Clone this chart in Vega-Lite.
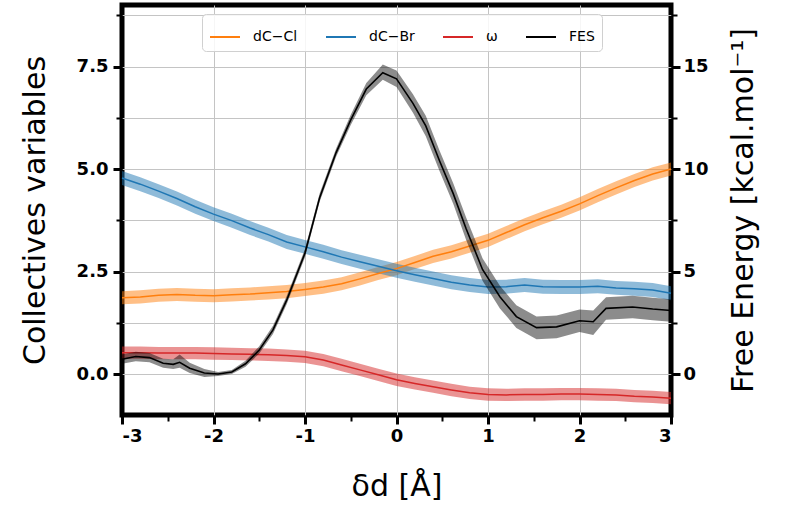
{
  "$schema": "https://vega.github.io/schema/vega-lite/v6.json",
  "width": 549,
  "height": 410,
  "autosize": {"type": "none"},
  "padding": {"left": 122, "top": 5, "right": 118, "bottom": 98},
  "background": "white",
  "data": {
    "values": [
      {"s": "dC−Cl", "x": -3.0, "v": 1.86, "lo": 1.70, "hi": 2.02},
      {"s": "dC−Cl", "x": -2.8, "v": 1.88, "lo": 1.72, "hi": 2.04},
      {"s": "dC−Cl", "x": -2.6, "v": 1.92, "lo": 1.76, "hi": 2.08},
      {"s": "dC−Cl", "x": -2.4, "v": 1.94, "lo": 1.78, "hi": 2.10},
      {"s": "dC−Cl", "x": -2.2, "v": 1.92, "lo": 1.76, "hi": 2.08},
      {"s": "dC−Cl", "x": -2.0, "v": 1.91, "lo": 1.75, "hi": 2.07},
      {"s": "dC−Cl", "x": -1.8, "v": 1.93, "lo": 1.77, "hi": 2.09},
      {"s": "dC−Cl", "x": -1.6, "v": 1.95, "lo": 1.79, "hi": 2.11},
      {"s": "dC−Cl", "x": -1.4, "v": 1.98, "lo": 1.82, "hi": 2.14},
      {"s": "dC−Cl", "x": -1.2, "v": 2.01, "lo": 1.85, "hi": 2.17},
      {"s": "dC−Cl", "x": -1.0, "v": 2.06, "lo": 1.90, "hi": 2.22},
      {"s": "dC−Cl", "x": -0.8, "v": 2.12, "lo": 1.96, "hi": 2.28},
      {"s": "dC−Cl", "x": -0.6, "v": 2.20, "lo": 2.04, "hi": 2.36},
      {"s": "dC−Cl", "x": -0.4, "v": 2.32, "lo": 2.16, "hi": 2.48},
      {"s": "dC−Cl", "x": -0.2, "v": 2.45, "lo": 2.29, "hi": 2.61},
      {"s": "dC−Cl", "x": 0.0, "v": 2.57, "lo": 2.41, "hi": 2.73},
      {"s": "dC−Cl", "x": 0.2, "v": 2.72, "lo": 2.56, "hi": 2.88},
      {"s": "dC−Cl", "x": 0.4, "v": 2.87, "lo": 2.71, "hi": 3.03},
      {"s": "dC−Cl", "x": 0.6, "v": 2.98, "lo": 2.82, "hi": 3.14},
      {"s": "dC−Cl", "x": 0.8, "v": 3.12, "lo": 2.96, "hi": 3.28},
      {"s": "dC−Cl", "x": 1.0, "v": 3.26, "lo": 3.10, "hi": 3.42},
      {"s": "dC−Cl", "x": 1.2, "v": 3.45, "lo": 3.29, "hi": 3.61},
      {"s": "dC−Cl", "x": 1.4, "v": 3.64, "lo": 3.48, "hi": 3.80},
      {"s": "dC−Cl", "x": 1.6, "v": 3.81, "lo": 3.65, "hi": 3.97},
      {"s": "dC−Cl", "x": 1.8, "v": 3.97, "lo": 3.81, "hi": 4.13},
      {"s": "dC−Cl", "x": 2.0, "v": 4.15, "lo": 3.99, "hi": 4.31},
      {"s": "dC−Cl", "x": 2.2, "v": 4.35, "lo": 4.19, "hi": 4.51},
      {"s": "dC−Cl", "x": 2.4, "v": 4.54, "lo": 4.38, "hi": 4.70},
      {"s": "dC−Cl", "x": 2.6, "v": 4.72, "lo": 4.56, "hi": 4.88},
      {"s": "dC−Cl", "x": 2.8, "v": 4.88, "lo": 4.72, "hi": 5.04},
      {"s": "dC−Cl", "x": 3.0, "v": 5.00, "lo": 4.84, "hi": 5.16},
      {"s": "dC−Br", "x": -3.0, "v": 4.78, "lo": 4.61, "hi": 4.95},
      {"s": "dC−Br", "x": -2.8, "v": 4.63, "lo": 4.46, "hi": 4.80},
      {"s": "dC−Br", "x": -2.6, "v": 4.46, "lo": 4.29, "hi": 4.63},
      {"s": "dC−Br", "x": -2.4, "v": 4.28, "lo": 4.11, "hi": 4.45},
      {"s": "dC−Br", "x": -2.2, "v": 4.08, "lo": 3.91, "hi": 4.25},
      {"s": "dC−Br", "x": -2.0, "v": 3.90, "lo": 3.73, "hi": 4.07},
      {"s": "dC−Br", "x": -1.8, "v": 3.74, "lo": 3.57, "hi": 3.91},
      {"s": "dC−Br", "x": -1.6, "v": 3.56, "lo": 3.39, "hi": 3.73},
      {"s": "dC−Br", "x": -1.4, "v": 3.40, "lo": 3.23, "hi": 3.57},
      {"s": "dC−Br", "x": -1.2, "v": 3.22, "lo": 3.05, "hi": 3.39},
      {"s": "dC−Br", "x": -1.0, "v": 3.10, "lo": 2.93, "hi": 3.27},
      {"s": "dC−Br", "x": -0.8, "v": 2.98, "lo": 2.81, "hi": 3.15},
      {"s": "dC−Br", "x": -0.6, "v": 2.85, "lo": 2.68, "hi": 3.02},
      {"s": "dC−Br", "x": -0.4, "v": 2.74, "lo": 2.57, "hi": 2.91},
      {"s": "dC−Br", "x": -0.2, "v": 2.63, "lo": 2.46, "hi": 2.80},
      {"s": "dC−Br", "x": 0.0, "v": 2.52, "lo": 2.35, "hi": 2.69},
      {"s": "dC−Br", "x": 0.2, "v": 2.42, "lo": 2.25, "hi": 2.59},
      {"s": "dC−Br", "x": 0.4, "v": 2.33, "lo": 2.16, "hi": 2.50},
      {"s": "dC−Br", "x": 0.6, "v": 2.24, "lo": 2.07, "hi": 2.41},
      {"s": "dC−Br", "x": 0.8, "v": 2.17, "lo": 2.00, "hi": 2.34},
      {"s": "dC−Br", "x": 1.0, "v": 2.12, "lo": 1.95, "hi": 2.29},
      {"s": "dC−Br", "x": 1.2, "v": 2.13, "lo": 1.96, "hi": 2.30},
      {"s": "dC−Br", "x": 1.4, "v": 2.17, "lo": 2.00, "hi": 2.34},
      {"s": "dC−Br", "x": 1.6, "v": 2.13, "lo": 1.96, "hi": 2.30},
      {"s": "dC−Br", "x": 1.8, "v": 2.12, "lo": 1.95, "hi": 2.29},
      {"s": "dC−Br", "x": 2.0, "v": 2.12, "lo": 1.95, "hi": 2.29},
      {"s": "dC−Br", "x": 2.2, "v": 2.14, "lo": 1.97, "hi": 2.31},
      {"s": "dC−Br", "x": 2.4, "v": 2.10, "lo": 1.93, "hi": 2.27},
      {"s": "dC−Br", "x": 2.6, "v": 2.08, "lo": 1.91, "hi": 2.25},
      {"s": "dC−Br", "x": 2.8, "v": 2.05, "lo": 1.88, "hi": 2.22},
      {"s": "dC−Br", "x": 3.0, "v": 1.97, "lo": 1.80, "hi": 2.14},
      {"s": "ω", "x": -3.0, "v": 0.52, "lo": 0.37, "hi": 0.67},
      {"s": "ω", "x": -2.8, "v": 0.52, "lo": 0.37, "hi": 0.67},
      {"s": "ω", "x": -2.6, "v": 0.51, "lo": 0.36, "hi": 0.66},
      {"s": "ω", "x": -2.4, "v": 0.51, "lo": 0.36, "hi": 0.66},
      {"s": "ω", "x": -2.2, "v": 0.51, "lo": 0.36, "hi": 0.66},
      {"s": "ω", "x": -2.0, "v": 0.50, "lo": 0.35, "hi": 0.65},
      {"s": "ω", "x": -1.8, "v": 0.49, "lo": 0.34, "hi": 0.64},
      {"s": "ω", "x": -1.6, "v": 0.48, "lo": 0.33, "hi": 0.63},
      {"s": "ω", "x": -1.4, "v": 0.47, "lo": 0.32, "hi": 0.62},
      {"s": "ω", "x": -1.2, "v": 0.45, "lo": 0.30, "hi": 0.60},
      {"s": "ω", "x": -1.0, "v": 0.42, "lo": 0.27, "hi": 0.57},
      {"s": "ω", "x": -0.8, "v": 0.34, "lo": 0.19, "hi": 0.49},
      {"s": "ω", "x": -0.6, "v": 0.22, "lo": 0.07, "hi": 0.37},
      {"s": "ω", "x": -0.4, "v": 0.10, "lo": -0.05, "hi": 0.25},
      {"s": "ω", "x": -0.2, "v": -0.02, "lo": -0.17, "hi": 0.13},
      {"s": "ω", "x": 0.0, "v": -0.14, "lo": -0.29, "hi": 0.01},
      {"s": "ω", "x": 0.2, "v": -0.23, "lo": -0.38, "hi": -0.08},
      {"s": "ω", "x": 0.4, "v": -0.31, "lo": -0.46, "hi": -0.16},
      {"s": "ω", "x": 0.6, "v": -0.39, "lo": -0.54, "hi": -0.24},
      {"s": "ω", "x": 0.8, "v": -0.46, "lo": -0.61, "hi": -0.31},
      {"s": "ω", "x": 1.0, "v": -0.50, "lo": -0.65, "hi": -0.35},
      {"s": "ω", "x": 1.2, "v": -0.51, "lo": -0.66, "hi": -0.36},
      {"s": "ω", "x": 1.4, "v": -0.50, "lo": -0.65, "hi": -0.35},
      {"s": "ω", "x": 1.6, "v": -0.50, "lo": -0.65, "hi": -0.35},
      {"s": "ω", "x": 1.8, "v": -0.49, "lo": -0.64, "hi": -0.34},
      {"s": "ω", "x": 2.0, "v": -0.49, "lo": -0.64, "hi": -0.34},
      {"s": "ω", "x": 2.2, "v": -0.50, "lo": -0.65, "hi": -0.35},
      {"s": "ω", "x": 2.4, "v": -0.51, "lo": -0.66, "hi": -0.36},
      {"s": "ω", "x": 2.6, "v": -0.54, "lo": -0.69, "hi": -0.39},
      {"s": "ω", "x": 2.8, "v": -0.56, "lo": -0.71, "hi": -0.41},
      {"s": "ω", "x": 3.0, "v": -0.59, "lo": -0.74, "hi": -0.44},
      {"s": "FES", "x": -3.0, "v": 0.72, "lo": 0.50, "hi": 0.95},
      {"s": "FES", "x": -2.85, "v": 0.85, "lo": 0.62, "hi": 1.08},
      {"s": "FES", "x": -2.7, "v": 0.80, "lo": 0.57, "hi": 1.02},
      {"s": "FES", "x": -2.55, "v": 0.52, "lo": 0.30, "hi": 0.75},
      {"s": "FES", "x": -2.44, "v": 0.47, "lo": 0.25, "hi": 0.72},
      {"s": "FES", "x": -2.37, "v": 0.57, "lo": 0.30, "hi": 0.95},
      {"s": "FES", "x": -2.26, "v": 0.28, "lo": 0.05, "hi": 0.55},
      {"s": "FES", "x": -2.1, "v": 0.05, "lo": -0.15, "hi": 0.25},
      {"s": "FES", "x": -1.95, "v": 0.0, "lo": -0.1, "hi": 0.1},
      {"s": "FES", "x": -1.8, "v": 0.1, "lo": 0.0, "hi": 0.2},
      {"s": "FES", "x": -1.65, "v": 0.5, "lo": 0.35, "hi": 0.65},
      {"s": "FES", "x": -1.5, "v": 1.17, "lo": 1.0, "hi": 1.35},
      {"s": "FES", "x": -1.35, "v": 2.15, "lo": 1.95, "hi": 2.35},
      {"s": "FES", "x": -1.2, "v": 3.6, "lo": 3.4, "hi": 3.8},
      {"s": "FES", "x": -1.0, "v": 5.9, "lo": 5.7, "hi": 6.1},
      {"s": "FES", "x": -0.84, "v": 8.6, "lo": 8.4, "hi": 8.8},
      {"s": "FES", "x": -0.66, "v": 10.8, "lo": 10.6, "hi": 11.0},
      {"s": "FES", "x": -0.5, "v": 12.4, "lo": 12.15, "hi": 12.65},
      {"s": "FES", "x": -0.33, "v": 13.9, "lo": 13.6, "hi": 14.2},
      {"s": "FES", "x": -0.15, "v": 14.7, "lo": 14.35, "hi": 15.1},
      {"s": "FES", "x": 0.0, "v": 14.4, "lo": 14.0, "hi": 14.8},
      {"s": "FES", "x": 0.18, "v": 13.2, "lo": 12.75, "hi": 13.65},
      {"s": "FES", "x": 0.32, "v": 12.1, "lo": 11.6, "hi": 12.6},
      {"s": "FES", "x": 0.47, "v": 10.4, "lo": 9.9, "hi": 10.9},
      {"s": "FES", "x": 0.62, "v": 8.8, "lo": 8.3, "hi": 9.3},
      {"s": "FES", "x": 0.76, "v": 7.1, "lo": 6.55, "hi": 7.65},
      {"s": "FES", "x": 0.94, "v": 5.1, "lo": 4.55, "hi": 5.65},
      {"s": "FES", "x": 1.13, "v": 3.77, "lo": 3.2, "hi": 4.3},
      {"s": "FES", "x": 1.31, "v": 2.8, "lo": 2.25, "hi": 3.35},
      {"s": "FES", "x": 1.53, "v": 2.26, "lo": 1.7, "hi": 2.8},
      {"s": "FES", "x": 1.75, "v": 2.3, "lo": 1.75, "hi": 2.85},
      {"s": "FES", "x": 2.0, "v": 2.6, "lo": 2.05, "hi": 3.15},
      {"s": "FES", "x": 2.15, "v": 2.55, "lo": 1.9, "hi": 3.1},
      {"s": "FES", "x": 2.29, "v": 3.2, "lo": 2.65, "hi": 3.75},
      {"s": "FES", "x": 2.58, "v": 3.27, "lo": 2.72, "hi": 3.82},
      {"s": "FES", "x": 2.8, "v": 3.17, "lo": 2.62, "hi": 3.72},
      {"s": "FES", "x": 3.0, "v": 3.1, "lo": 2.55, "hi": 3.65}
    ]
  },
  "layer": [
    {
      "layer": [
        {
          "transform": [{"filter": "datum.s != 'FES'"}],
          "mark": {"type": "area", "fillOpacity": 0.5},
          "encoding": {
            "x": {
              "field": "x",
              "type": "quantitative",
              "scale": {"domain": [-3, 3], "nice": false},
              "axis": {
                "orient": "bottom",
                "values": [-3, -2.5, -2, -1.5, -1, -0.5, 0, 0.5, 1, 1.5, 2, 2.5, 3],
                "labelExpr": "datum.value % 1 == 0 ? '' + datum.value : ''",
                "title": "δd [Å]",
                "domain": false,
                "grid": true,
                "gridColor": "#c4c4c4",
                "gridOpacity": {"condition": {"test": "datum.value % 1 == 0 && abs(datum.value) < 3", "value": 1}, "value": 0},
                "tickColor": "black",
                "tickSize": {"condition": {"test": "datum.value % 1 == 0", "value": 9}, "value": 6},
                "tickWidth": {"condition": {"test": "datum.value % 1 == 0", "value": 3}, "value": 2},
                "labelFont": "DejaVu Sans",
                "labelFontWeight": "bold",
                "labelFontSize": 18,
                "labelColor": "black",
                "labelPadding": 3,
                "titleFont": "DejaVu Sans",
                "titleFontSize": 30,
                "titleFontWeight": "normal",
                "titleColor": "black",
                "titlePadding": 26
              }
            },
            "y": {
              "field": "lo",
              "type": "quantitative",
              "scale": {"domain": [-1, 9], "nice": false},
              "axis": {
                "orient": "left",
                "values": [0, 1.25, 2.5, 3.75, 5, 6.25, 7.5, 8.75],
                "labelExpr": "datum.value % 2.5 == 0 ? format(datum.value, '.1f') : ''",
                "title": "Collectives variables",
                "domain": false,
                "grid": true,
                "gridColor": "#c4c4c4",
                "tickColor": "black",
                "tickSize": {"condition": {"test": "datum.value % 2.5 == 0", "value": 9}, "value": 6},
                "tickWidth": {"condition": {"test": "datum.value % 2.5 == 0", "value": 3}, "value": 2},
                "labelFont": "DejaVu Sans",
                "labelFontWeight": "bold",
                "labelFontSize": 18,
                "labelColor": "black",
                "labelPadding": 5,
                "titleFont": "DejaVu Sans",
                "titleFontSize": 30,
                "titleFontWeight": "normal",
                "titleColor": "black",
                "titlePadding": 26
              }
            },
            "y2": {"field": "hi"},
            "color": {
              "field": "s",
              "type": "nominal",
              "scale": {
                "domain": ["dC−Cl", "dC−Br", "ω", "FES"],
                "range": ["#ff7f0e", "#1f77b4", "#d62728", "#000000"]
              },
              "legend": {
                "orient": "none",
                "legendX": 80,
                "legendY": 9,
                "direction": "horizontal",
                "columns": 4,
                "title": null,
                "symbolType": "stroke",
                "symbolSize": 900,
                "symbolStrokeWidth": 2,
                "symbolOpacity": 1,
                "symbolFillColor": "transparent",
                "labelFont": "DejaVu Sans",
                "labelFontSize": 14,
                "labelColor": "black",
                "fillColor": "rgba(255,255,255,0.85)",
                "strokeColor": "#d0d0d0",
                "cornerRadius": 4,
                "padding": 7,
                "columnPadding": 24,
                "labelOffset": 12
              }
            }
          }
        },
        {
          "transform": [{"filter": "datum.s != 'FES'"}],
          "mark": {"type": "line", "strokeWidth": 1.5},
          "encoding": {
            "x": {"field": "x", "type": "quantitative"},
            "y": {"field": "v", "type": "quantitative"},
            "color": {"field": "s", "type": "nominal"}
          }
        }
      ]
    },
    {
      "layer": [
        {
          "transform": [{"filter": "datum.s == 'FES'"}],
          "mark": {"type": "area", "fillOpacity": 0.45},
          "encoding": {
            "x": {"field": "x", "type": "quantitative"},
            "y": {
              "field": "lo",
              "type": "quantitative",
              "scale": {"domain": [-2, 18], "nice": false},
              "axis": {
                "orient": "right",
                "values": [0, 2.5, 5, 7.5, 10, 12.5, 15, 17.5],
                "labelExpr": "datum.value % 5 == 0 ? '' + datum.value : ''",
                "title": "Free Energy [kcal.mol⁻¹]",
                "titleAngle": 270,
                "titleBaseline": "top",
                "domain": false,
                "grid": false,
                "tickColor": "black",
                "tickSize": {"condition": {"test": "datum.value % 5 == 0", "value": 9}, "value": 6},
                "tickWidth": {"condition": {"test": "datum.value % 5 == 0", "value": 3}, "value": 2},
                "labelFont": "DejaVu Sans",
                "labelFontWeight": "bold",
                "labelFontSize": 18,
                "labelColor": "black",
                "labelPadding": 3,
                "titleFont": "DejaVu Sans",
                "titleFontSize": 30,
                "titleFontWeight": "normal",
                "titleColor": "black",
                "titlePadding": 20
              }
            },
            "y2": {"field": "hi"},
            "color": {"field": "s", "type": "nominal"}
          }
        },
        {
          "transform": [{"filter": "datum.s == 'FES'"}],
          "mark": {"type": "line", "strokeWidth": 1.6},
          "encoding": {
            "x": {"field": "x", "type": "quantitative"},
            "y": {"field": "v", "type": "quantitative"},
            "color": {"field": "s", "type": "nominal"}
          }
        }
      ]
    }
  ],
  "resolve": {"scale": {"y": "independent"}},
  "config": {
    "font": "DejaVu Sans",
    "view": {"stroke": "black", "strokeWidth": 5}
  }
}
